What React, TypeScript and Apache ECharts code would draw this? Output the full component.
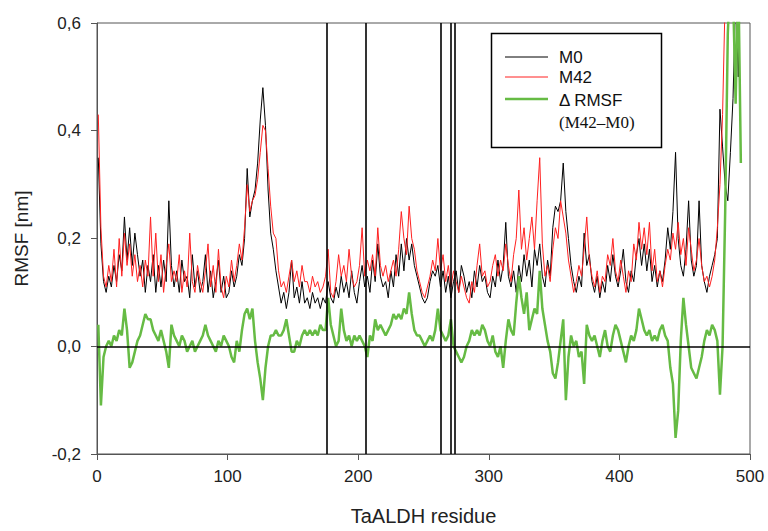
import React, { useEffect, useRef } from "react";
import * as echarts from "echarts";

const xTicks = [0, 100, 200, 300, 400, 500];
const yTicks = [-0.2, 0, 0.2, 0.4, 0.6];
const seriesNames = ["M0", "M42", "\u0394 RMSF"];
const markedResidues = [176, 206, 263, 271, 274];
const residueStart = 1;
const residueStep = 2;

const m0 = [
  0.35, 0.19, 0.12, 0.10, 0.13, 0.11, 0.15, 0.12, 0.17, 0.14,
  0.24, 0.16, 0.22, 0.15, 0.21, 0.17, 0.13, 0.16, 0.10, 0.15,
  0.12, 0.17, 0.10, 0.15, 0.11, 0.16, 0.12, 0.27, 0.15, 0.11,
  0.14, 0.10, 0.16, 0.12, 0.13, 0.09, 0.17, 0.11, 0.14, 0.10,
  0.12, 0.17, 0.10, 0.14, 0.09, 0.12, 0.16, 0.10, 0.13, 0.09,
  0.10, 0.14, 0.11, 0.13, 0.17, 0.15, 0.20, 0.33, 0.24, 0.27,
  0.29, 0.34, 0.42, 0.48, 0.41, 0.29, 0.21, 0.18, 0.14, 0.11,
  0.08, 0.10, 0.07, 0.10, 0.16, 0.09, 0.11, 0.08, 0.12, 0.08,
  0.09, 0.07, 0.10, 0.08, 0.09, 0.07, 0.09, 0.08, 0.12, 0.09,
  0.08, 0.11, 0.09, 0.13, 0.10, 0.12, 0.09, 0.14, 0.10, 0.08,
  0.12, 0.15, 0.11, 0.13, 0.10, 0.16, 0.12, 0.19, 0.13, 0.11,
  0.12, 0.09, 0.14, 0.11, 0.17, 0.13, 0.19, 0.14, 0.20, 0.16,
  0.19, 0.15, 0.13, 0.11, 0.09, 0.08, 0.09, 0.12, 0.14, 0.13,
  0.15, 0.11, 0.14, 0.10, 0.13, 0.09, 0.12, 0.14, 0.10, 0.15,
  0.13, 0.10, 0.12, 0.09, 0.14, 0.11, 0.15, 0.12, 0.13, 0.10,
  0.09, 0.13, 0.11, 0.16, 0.12, 0.15, 0.23, 0.13, 0.11, 0.14,
  0.10, 0.15, 0.12, 0.17, 0.13, 0.16, 0.11, 0.18, 0.15, 0.19,
  0.13, 0.11, 0.16, 0.13, 0.22, 0.26, 0.25, 0.27, 0.34, 0.25,
  0.20, 0.15, 0.12, 0.10, 0.13, 0.11, 0.21, 0.15, 0.17, 0.12,
  0.10, 0.13, 0.09, 0.12, 0.10, 0.15, 0.12, 0.17, 0.13, 0.11,
  0.14, 0.18, 0.12, 0.10, 0.14, 0.12, 0.17, 0.20, 0.15, 0.19,
  0.14, 0.18, 0.12, 0.15, 0.11, 0.14, 0.12, 0.16, 0.22, 0.18,
  0.25, 0.36, 0.20, 0.15, 0.13, 0.18, 0.27, 0.16, 0.13, 0.15,
  0.27, 0.15, 0.12, 0.10, 0.13, 0.15, 0.17, 0.20, 0.44, 0.37,
  0.30, 0.27, 0.36, 0.46, 0.65, 0.50, 0.70,
];

const m42 = [
  0.43, 0.22, 0.13, 0.11, 0.15, 0.12, 0.18, 0.11, 0.20, 0.13,
  0.21, 0.15, 0.19, 0.13, 0.17, 0.12, 0.15, 0.11, 0.16, 0.13,
  0.24, 0.13, 0.21, 0.12, 0.17, 0.10, 0.15, 0.19, 0.12, 0.14,
  0.12, 0.17, 0.10, 0.14, 0.11, 0.21, 0.12, 0.10, 0.15, 0.12,
  0.10, 0.14, 0.19, 0.11, 0.15, 0.10, 0.18, 0.11, 0.09, 0.13,
  0.11, 0.16, 0.12, 0.15, 0.19, 0.16, 0.22, 0.30, 0.25, 0.27,
  0.28, 0.31, 0.36, 0.41, 0.40, 0.33, 0.26, 0.21, 0.20, 0.14,
  0.11, 0.12, 0.10, 0.13, 0.16, 0.12, 0.14, 0.11, 0.15, 0.12,
  0.12, 0.10, 0.13, 0.11, 0.12, 0.10, 0.11, 0.13, 0.18, 0.10,
  0.09, 0.12, 0.17, 0.13, 0.15, 0.12, 0.18, 0.13, 0.11, 0.12,
  0.15, 0.22, 0.13, 0.16, 0.14, 0.17, 0.13, 0.22, 0.15, 0.13,
  0.15, 0.12, 0.14, 0.16, 0.13, 0.18, 0.25, 0.20, 0.17, 0.26,
  0.20, 0.18, 0.14, 0.12, 0.10, 0.09, 0.11, 0.13, 0.16, 0.14,
  0.20, 0.14, 0.17, 0.12, 0.15, 0.11, 0.14, 0.12, 0.10, 0.13,
  0.11, 0.09, 0.08, 0.12, 0.10, 0.15, 0.19, 0.13, 0.14, 0.11,
  0.12, 0.15, 0.17, 0.13, 0.16, 0.14, 0.19, 0.15, 0.12, 0.17,
  0.20, 0.29, 0.18, 0.22, 0.16, 0.20, 0.24, 0.18, 0.27, 0.35,
  0.19, 0.13, 0.15, 0.12, 0.18, 0.22, 0.20, 0.27, 0.24, 0.21,
  0.16, 0.13, 0.10, 0.12, 0.15, 0.13, 0.18, 0.24, 0.16, 0.13,
  0.11, 0.14, 0.10, 0.13, 0.12, 0.17, 0.15, 0.20, 0.14, 0.12,
  0.16, 0.13, 0.10, 0.14, 0.12, 0.19, 0.16, 0.23, 0.18, 0.22,
  0.17, 0.23, 0.14, 0.18, 0.12, 0.14, 0.11, 0.15, 0.18, 0.16,
  0.21, 0.18, 0.23, 0.17, 0.20, 0.15, 0.22, 0.18, 0.14, 0.16,
  0.20, 0.15, 0.12, 0.13, 0.11, 0.13, 0.16, 0.22, 0.30, 0.43,
  0.65, 0.75, 0.80, 0.85, 0.85, 0.85, 0.85,
];

const deltaRmsf = [
  0.04, -0.11, -0.02, 0.00, 0.01, 0.00, 0.02, 0.01, 0.03, 0.02,
  0.07, 0.03, -0.04, -0.03, -0.01, 0.01, 0.02, 0.04, 0.06, 0.05,
  0.05, 0.03, 0.02, 0.01, 0.03, 0.01, -0.01, -0.04, 0.04, 0.02,
  0.01, 0.00, 0.02, 0.01, -0.01, 0.00, 0.01, -0.01, 0.00, 0.01,
  0.02, 0.04, 0.02, 0.01, 0.00, -0.01, 0.01, 0.00, 0.02, 0.01,
  0.00, -0.02, -0.03, 0.01, -0.01, 0.03, 0.06, 0.07, 0.05, 0.07,
  0.01, -0.03, -0.06, -0.10, -0.04, 0.00, 0.02, 0.02, 0.03, 0.02,
  0.02, 0.03, 0.05, 0.02, -0.01, -0.01, 0.01, 0.00, 0.02, 0.03,
  0.02, 0.03, 0.02, 0.03, 0.02, 0.04, 0.03, 0.03, 0.09, 0.04,
  0.02, 0.00, 0.01, 0.07, 0.03, 0.01, 0.02, 0.00, 0.02, 0.01,
  0.02, 0.01, 0.00, -0.02, 0.02, 0.01, 0.05, 0.03, 0.04, 0.03,
  0.02, 0.03, 0.04, 0.06, 0.05, 0.06, 0.05, 0.07, 0.06, 0.10,
  0.06, 0.03, 0.02, 0.02, 0.01, 0.00, 0.01, 0.02, 0.01, 0.03,
  0.07, 0.03, 0.02, 0.01, 0.02, 0.05, 0.00, -0.01, -0.02, -0.03,
  -0.02, 0.00, 0.01, 0.03, 0.02, 0.03, 0.02, 0.04, 0.03, 0.01,
  0.00, 0.02, -0.01, -0.02, 0.00, -0.04, 0.01, 0.05, 0.03, 0.02,
  0.08, 0.13, 0.09, 0.06, 0.10, 0.03, 0.05, 0.07, 0.06, 0.14,
  0.07, 0.04, 0.01, -0.01, -0.05, -0.06, -0.03, 0.01, 0.05, -0.10,
  -0.02, 0.02, 0.00, 0.01, -0.02, -0.01, -0.07, 0.04, 0.02, 0.01,
  0.02, 0.00, -0.02, 0.01, 0.03, 0.00, -0.01, 0.02, 0.04, 0.03,
  0.01, -0.01, -0.03, 0.00, 0.02, 0.01, 0.03, 0.07, 0.05, 0.03,
  0.02, 0.03, 0.01, 0.02, 0.01, 0.03, 0.04, 0.02, 0.01, -0.04,
  -0.07, -0.17, -0.12, 0.01, 0.09, 0.04, 0.00, -0.04, -0.05, -0.06,
  -0.04, -0.02, 0.01, 0.03, 0.02, 0.04, 0.03, 0.01, -0.09, 0.00,
  0.25, 0.58, 0.70, 0.66, 0.45, 0.70, 0.34,
];

const FONT = '"Liberation Sans", Arial, sans-serif';
const toPairs = (vals: number[]) => vals.map((v, i) => [residueStart + i * residueStep, v]);

export default function App() {
  const ref = useRef<HTMLDivElement>(null);
  useEffect(() => {
    if (!ref.current) return;
    const chart = echarts.init(ref.current, undefined, { renderer: "svg" });
    const legendX = 505;
    const textX = 559;
    chart.setOption({
      animation: false,
      backgroundColor: "#ffffff",
      grid: {
        left: 97,
        right: 18,
        top: 23,
        bottom: 73,
        show: true,
        borderColor: "#555",
        borderWidth: 1,
        backgroundColor: "transparent",
      },
      xAxis: {
        type: "value",
        min: xTicks[0],
        max: xTicks[xTicks.length - 1],
        interval: 100,
        name: "TaALDH residue",
        nameLocation: "middle",
        nameGap: 52,
        nameTextStyle: { fontFamily: FONT, fontSize: 20, color: "#222" },
        axisLine: { onZero: false, lineStyle: { color: "#555", width: 1 } },
        axisTick: { show: true, inside: false, length: 6, lineStyle: { color: "#555" } },
        axisLabel: { fontFamily: FONT, fontSize: 17, color: "#222", margin: 14 },
        splitLine: { show: false },
      },
      yAxis: {
        type: "value",
        min: yTicks[0],
        max: yTicks[yTicks.length - 1],
        interval: 0.2,
        name: "RMSF [nm]",
        nameLocation: "middle",
        nameGap: 66,
        nameRotate: 90,
        nameTextStyle: { fontFamily: FONT, fontSize: 19, color: "#222" },
        axisLine: { show: true, lineStyle: { color: "#555", width: 1 } },
        axisTick: { show: true, inside: false, length: 6, lineStyle: { color: "#555" } },
        axisLabel: {
          fontFamily: FONT,
          fontSize: 17,
          color: "#222",
          margin: 16,
          formatter: (v: number) => v.toFixed(1).replace(".", ","),
        },
        splitLine: { show: false },
      },
      series: [
        {
          name: seriesNames[0],
          type: "line",
          data: toPairs(m0),
          showSymbol: false,
          symbol: "none",
          lineStyle: { color: "#000000", width: 1 },
          z: 2,
        },
        {
          name: seriesNames[1],
          type: "line",
          data: toPairs(m42),
          showSymbol: false,
          symbol: "none",
          lineStyle: { color: "#ff2020", width: 1 },
          z: 3,
        },
        {
          name: seriesNames[2],
          type: "line",
          data: toPairs(deltaRmsf),
          showSymbol: false,
          symbol: "none",
          lineStyle: { color: "#66bb44", width: 2.5 },
          z: 4,
          markLine: {
            silent: true,
            symbol: ["none", "none"],
            label: { show: false },
            lineStyle: { color: "#000", width: 1.6, type: "solid" },
            data: [
              ...markedResidues.map((r) => ({ xAxis: r })),
              { yAxis: 0 },
            ],
          },
        },
      ],
      graphic: [
        {
          type: "rect",
          shape: { x: 491.5, y: 33.5, width: 170, height: 114 },
          style: { fill: "#fff", stroke: "#000", lineWidth: 1.5 },
          z: 100,
        },
        {
          type: "line",
          shape: { x1: legendX, y1: 57, x2: 548, y2: 57 },
          style: { stroke: "#000", lineWidth: 1 },
          z: 101,
        },
        {
          type: "line",
          shape: { x1: legendX, y1: 77, x2: 548, y2: 77 },
          style: { stroke: "#ff2020", lineWidth: 1 },
          z: 101,
        },
        {
          type: "line",
          shape: { x1: legendX, y1: 99, x2: 548, y2: 99 },
          style: { stroke: "#66bb44", lineWidth: 2.5 },
          z: 101,
        },
        {
          type: "text",
          x: textX,
          y: 57,
          style: { text: seriesNames[0], font: `17px ${FONT}`, fill: "#111", verticalAlign: "middle" },
          z: 101,
        },
        {
          type: "text",
          x: textX,
          y: 77,
          style: { text: seriesNames[1], font: `17px ${FONT}`, fill: "#111", verticalAlign: "middle" },
          z: 101,
        },
        {
          type: "text",
          x: textX,
          y: 100,
          style: { text: seriesNames[2], font: `17px ${FONT}`, fill: "#111", verticalAlign: "middle" },
          z: 101,
        },
        {
          type: "text",
          x: textX,
          y: 122,
          style: {
            text: "(M42\u2013M0)",
            font: `17px "Liberation Serif", "Times New Roman", serif`,
            fill: "#111",
            verticalAlign: "middle",
          },
          z: 101,
        },
      ],
    });
    return () => chart.dispose();
  }, []);
  return (
    <div
      ref={ref}
      style={{ position: "fixed", left: 0, top: 0, width: 768, height: 531 }}
    />
  );
}
